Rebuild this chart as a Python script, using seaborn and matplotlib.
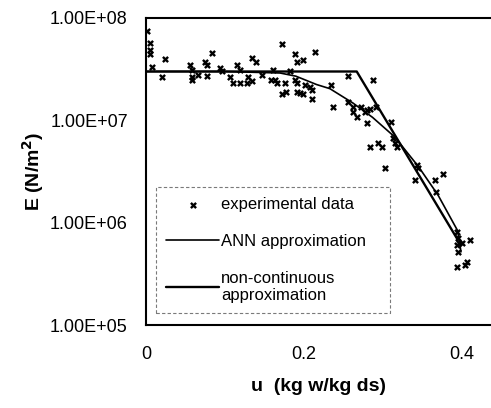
import matplotlib
matplotlib.use("Agg")
import matplotlib.pyplot as plt
import seaborn as sns
from matplotlib.ticker import FuncFormatter

# experimental points
exp_u = [0.001, 0.005, 0.005, 0.005, 0.008, 0.020, 0.024, 0.056, 0.058, 0.058,
         0.059, 0.066, 0.075, 0.078, 0.077, 0.084, 0.094, 0.097, 0.106, 0.110,
         0.116, 0.119, 0.119, 0.128, 0.135, 0.129, 0.134, 0.139, 0.147, 0.161,
         0.163, 0.166, 0.172, 0.176, 0.173, 0.178, 0.189, 0.191, 0.199, 0.182,
         0.189, 0.192, 0.195, 0.199, 0.201, 0.208, 0.211, 0.214, 0.235, 0.237,
         0.256, 0.256, 0.262, 0.267, 0.273, 0.277, 0.280, 0.284, 0.280, 0.287,
         0.292, 0.284, 0.294, 0.299, 0.303, 0.311, 0.313, 0.315, 0.318, 0.343,
         0.344, 0.341, 0.366, 0.376, 0.368, 0.394, 0.395, 0.397, 0.394, 0.400,
         0.410, 0.395, 0.394, 0.404, 0.406, 0.159, 0.191, 0.211, 0.262]
exp_E = [7.5e7, 5.7e7, 4.9e7, 4.4e7, 3.3e7, 2.65e7, 4.0e7, 3.5e7, 3.1e7, 2.65e7,
         2.5e7, 2.8e7, 3.7e7, 3.5e7, 2.7e7, 4.5e7, 3.25e7, 3.0e7, 2.65e7, 2.3e7,
         3.5e7, 3.1e7, 2.3e7, 2.3e7, 2.4e7, 2.65e7, 4.1e7, 3.7e7, 2.8e7, 3.1e7,
         2.5e7, 2.3e7, 5.6e7, 2.3e7, 1.8e7, 1.9e7, 4.4e7, 3.7e7, 3.9e7, 3.0e7,
         2.5e7, 2.3e7, 1.85e7, 1.8e7, 2.2e7, 2.1e7, 1.6e7, 4.7e7, 2.2e7, 1.35e7,
         2.7e7, 1.5e7, 1.35e7, 1.08e7, 1.35e7, 1.2e7, 1.26e7, 1.3e7, 9.5e6, 2.5e7,
         1.35e7, 5.5e6, 6.0e6, 5.5e6, 3.4e6, 9.7e6, 6.7e6, 6.0e6, 5.5e6, 3.7e6,
         3.4e6, 2.6e6, 2.6e6, 3.0e6, 2.0e6, 8.2e5, 7.1e5, 6.4e5, 6.1e5, 6.4e5,
         6.8e5, 5.2e5, 3.7e5, 3.9e5, 4.1e5, 2.5e7, 1.9e7, 2.0e7, 1.2e7]

# ANN approximation (smooth curve)
ann_u = [0.0, 0.10, 0.17, 0.19, 0.216, 0.233, 0.262, 0.287, 0.315, 0.345, 0.37, 0.395, 0.399]
ann_E = [3.0e7, 3.0e7, 2.9e7, 2.7e7, 2.24e7, 2.04e7, 1.48e7, 1.07e7, 6.9e6, 3.55e6, 1.86e6, 8.3e5, 5.2e5]

# non-continuous approximation (flat, then straight drop)
nc_u = [0.0, 0.267, 0.395]
nc_E = [3.0e7, 3.0e7, 6.8e5]

yticks = [1e5, 1e6, 1e7, 1e8]
xticks = [0, 0.2, 0.4]
xticklabels = ["0", "0.2", "0.4"]

sns.set_style("white")
plt.rcParams["font.family"] = ["Liberation Sans", "DejaVu Sans"]
for key in ["text.color", "axes.labelcolor", "xtick.color", "ytick.color"]:
    plt.rcParams[key] = "black"

fig = plt.figure(figsize=(4.91, 4.08), dpi=100)
ax = fig.add_axes([0.297, 0.203, 0.703, 0.753])

sns.scatterplot(x=exp_u, y=exp_E, marker="x", color="black", s=14,
                linewidth=1.7, ax=ax, label="experimental data", zorder=3)
sns.lineplot(x=ann_u, y=ann_E, color="black", lw=1.2, ax=ax,
             label="ANN approximation", sort=False)
sns.lineplot(x=nc_u, y=nc_E, color="black", lw=1.7, ax=ax,
             label="non-continuous\napproximation", sort=False)

ax.set_yscale("log")
ax.set_ylim(1e5, 1e8)
ax.set_xlim(0, 0.437)
ax.set_yticks(yticks)
ax.yaxis.set_major_formatter(FuncFormatter(lambda v, p: f"{v:.2E}"))
ax.yaxis.set_minor_locator(matplotlib.ticker.NullLocator())
ax.set_xticks(xticks)
ax.set_xticklabels(xticklabels)
ax.tick_params(axis="y", length=0, pad=13, labelsize=13)
ax.tick_params(axis="x", length=0, pad=15, labelsize=13)

for side in ["left", "bottom", "top"]:
    ax.spines[side].set_visible(True)
    ax.spines[side].set_color("black")
    ax.spines[side].set_linewidth(1.5)
ax.spines["right"].set_visible(False)

ax.set_xlabel("u  (kg w/kg ds)", fontsize=14, fontweight="bold", labelpad=11)
ax.set_ylabel("E (N/m$^\\mathbf{2}$)", fontsize=14, fontweight="bold", labelpad=3)

leg = ax.legend(loc="lower left", bbox_to_anchor=(0.029, 0.039, 0.678, 0.404),
                mode="expand", fontsize=12, frameon=True, fancybox=False,
                handlelength=3.2, handletextpad=0.1, labelspacing=1.3,
                scatterpoints=1, borderpad=0.6, borderaxespad=0)
frame = leg.get_frame()
frame.set_edgecolor("0.35")
frame.set_linestyle((0, (3, 2)))
frame.set_linewidth(0.8)

fig.savefig("out.png", dpi=100)
